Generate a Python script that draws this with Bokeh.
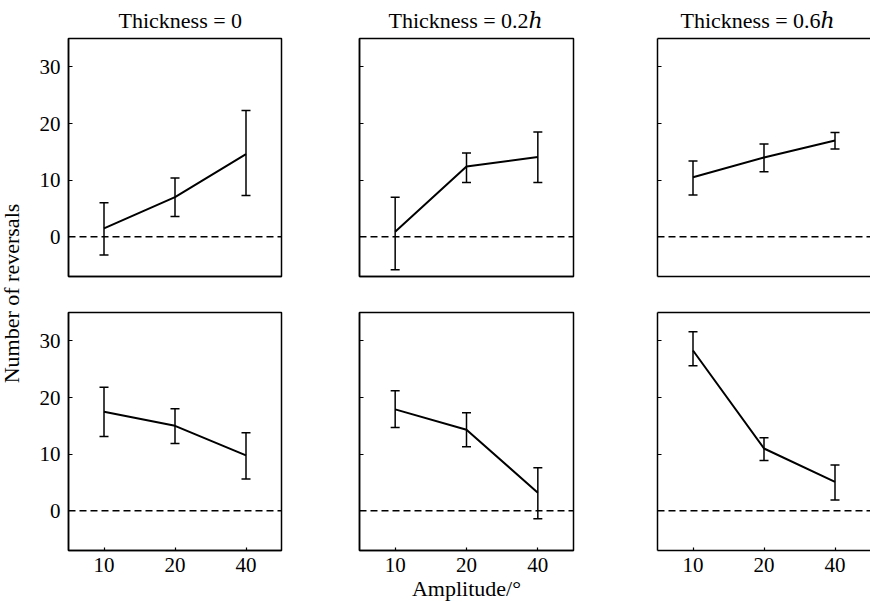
import math
from bokeh.plotting import figure
from bokeh.models import (ColumnDataSource, Range1d, FixedTicker, Whisker, TeeHead,
                          Span, Label, LinearAxis, Title)
from bokeh.layouts import row, column
from bokeh.embed import file_html
from bokeh.resources import INLINE

# ---------------- data ----------------
amplitudes = ["10", "20", "40"]
y_ticks = [0, 10, 20, 30]
zero_level = 0
col_titles = ["Thickness = 0", "Thickness = 0.2\u210e", "Thickness = 0.6\u210e"]
y_label = "Number of reversals"
x_label = "Amplitude/°"

# top row
top_t0_mean = [1.5, 7.0, 14.6]
top_t0_low = [-3.2, 3.6, 7.3]
top_t0_high = [6.0, 10.4, 22.3]

top_t02_mean = [0.9, 12.4, 14.1]
top_t02_low = [-5.8, 9.6, 9.6]
top_t02_high = [7.0, 14.8, 18.5]

top_t06_mean = [10.5, 14.0, 17.0]
top_t06_low = [7.4, 11.5, 15.5]
top_t06_high = [13.4, 16.4, 18.4]

# bottom row
bot_t0_mean = [17.5, 15.0, 9.8]
bot_t0_low = [13.1, 11.9, 5.6]
bot_t0_high = [21.8, 18.0, 13.8]

bot_t02_mean = [17.9, 14.3, 3.2]
bot_t02_low = [14.7, 11.3, -1.4]
bot_t02_high = [21.2, 17.3, 7.6]

bot_t06_mean = [28.3, 11.0, 5.1]
bot_t06_low = [25.6, 8.9, 1.9]
bot_t06_high = [31.6, 12.9, 8.1]

panels = [
    [(top_t0_mean, top_t0_low, top_t0_high),
     (top_t02_mean, top_t02_low, top_t02_high),
     (top_t06_mean, top_t06_low, top_t06_high)],
    [(bot_t0_mean, bot_t0_low, bot_t0_high),
     (bot_t02_mean, bot_t02_low, bot_t02_high),
     (bot_t06_mean, bot_t06_low, bot_t06_high)],
]

# ---------------- layout / style ----------------
FONT = "Liberation Serif"
TITLE_FONT = "Liberation Serif, DejaVu Serif"
TICK_SIZE = "21px"
TITLE_SIZE = "22px"
LABEL_SIZE = "22px"
YLAB_W = 26
FW = [213, 214, 213]
FH = 238
ML = [68 - YLAB_W, 74, 80]
MR = [4, 4, 0]
MT = [36, 18]
MB = [18, 51]
TITLE_OFFSET = [50, 29, 23]
TOTAL_H = 38 + FH + MB[0] + MT[1] + FH + MB[1]

x_pos = [i + 1 for i in range(len(amplitudes))]
x_overrides = {p: a for p, a in zip(x_pos, amplitudes)}


def style_axis(ax):
    ax.axis_line_color = "black"
    ax.axis_line_width = 1.5
    ax.major_tick_line_color = "black"
    ax.major_tick_line_width = 1.2
    ax.major_tick_in = 4
    ax.major_tick_out = 0
    ax.minor_tick_line_color = None
    ax.major_label_text_font = FONT
    ax.major_label_text_font_size = TICK_SIZE
    ax.major_label_text_color = "black"


def make_panel(r, c, mean, lo, hi):
    fig = figure(x_range=Range1d(0.5, len(amplitudes) + 0.5), y_range=Range1d(-7, 35),
                 frame_width=FW[c], frame_height=FH,
                 min_border_left=ML[c], min_border_right=MR[c],
                 min_border_top=MT[r], min_border_bottom=MB[r],
                 toolbar_location=None, output_backend="svg")
    fig.xgrid.visible = False
    fig.ygrid.visible = False
    fig.background_fill_color = "white"
    fig.border_fill_color = "white"

    if r == 0:
        fig.title = Title(text=col_titles[c], align="left", offset=TITLE_OFFSET[c],
                          text_font=TITLE_FONT, text_font_size=TITLE_SIZE,
                          text_font_style="normal", text_color="black", standoff=11)

    # y axis
    yax = fig.yaxis[0]
    style_axis(yax)
    yax.ticker = FixedTicker(ticks=y_ticks)
    yax.major_label_standoff = 8
    if c != 0:
        yax.major_label_text_color = None

    # x axis
    xax = fig.xaxis[0]
    style_axis(xax)
    if r == 0:
        xax.ticker = FixedTicker(ticks=[])
    else:
        xax.ticker = FixedTicker(ticks=x_pos)
        xax.major_label_overrides = x_overrides
        xax.major_tick_in = 3
        xax.major_label_standoff = 7
        if c == 1:
            xax.axis_label = x_label
            xax.axis_label_text_font = FONT
            xax.axis_label_text_font_size = LABEL_SIZE
            xax.axis_label_text_font_style = "normal"
            xax.axis_label_text_color = "black"
            xax.axis_label_standoff = 1

    # frame edges
    if c < 2:
        fig.outline_line_color = "black"
        fig.outline_line_width = 1.5
        fig.outline_line_alpha = 1.0
    else:
        fig.outline_line_color = None
        top_ax = LinearAxis(ticker=FixedTicker(ticks=[]))
        style_axis(top_ax)
        fig.add_layout(top_ax, "above")

    fig.add_layout(Span(location=zero_level, dimension="width", line_color="black",
                        line_width=1.5, line_dash="7 4"))

    src = ColumnDataSource(dict(x=x_pos, mean=mean, lo=lo, hi=hi))
    fig.line("x", "mean", source=src, line_color="black", line_width=2)
    fig.add_layout(Whisker(base="x", upper="hi", lower="lo", source=src,
                           line_color="black", line_width=1.5,
                           upper_head=TeeHead(size=9, line_color="black", line_width=1.5),
                           lower_head=TeeHead(size=9, line_color="black", line_width=1.5)))
    return fig


rows = []
for r in range(2):
    figs = [make_panel(r, c, *panels[r][c]) for c in range(3)]
    rows.append(row(*figs, spacing=0))

ylab = figure(width=YLAB_W, height=TOTAL_H, x_range=Range1d(0, 1), y_range=Range1d(0, 1),
              x_axis_location=None, y_axis_location=None, min_border=0,
              toolbar_location=None, output_backend="svg")
ylab.outline_line_color = None
ylab.xgrid.visible = False
ylab.ygrid.visible = False
ylab.add_layout(Label(x=11, y=TOTAL_H - 293,
                      x_units="screen", y_units="screen", text=y_label, angle=math.pi / 2,
                      text_align="center", text_baseline="middle", text_font=FONT,
                      text_font_size=LABEL_SIZE, text_color="black"))

p = row(ylab, column(*rows, spacing=0), spacing=0)

open("out.html", "w").write(file_html(p, INLINE))
